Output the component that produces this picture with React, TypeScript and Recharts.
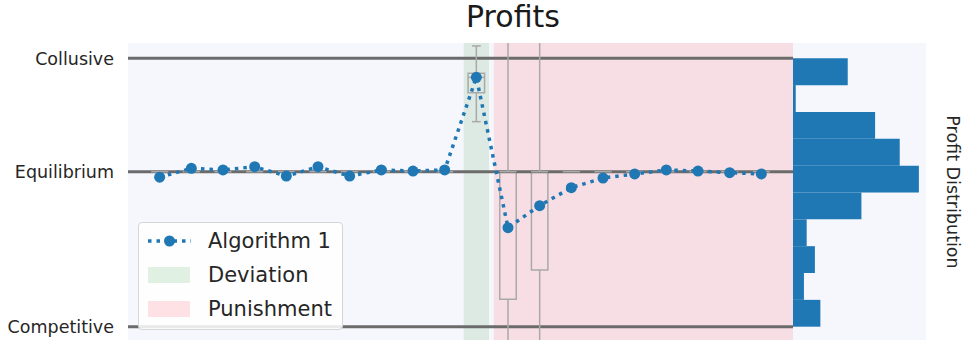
import React from 'react';
import { ComposedChart, Line, XAxis, YAxis, ReferenceLine, ReferenceArea } from 'recharts';

// ---- data ----
const periods = [1, 2, 3, 4, 5, 6, 7, 8, 9, 10, 11, 12, 13, 14, 15, 16, 17, 18, 19, 20];
const profit = [0.557, 0.590, 0.584, 0.596, 0.561, 0.596, 0.561, 0.584, 0.580, 0.584, 0.929, 0.369, 0.451, 0.518, 0.554, 0.569, 0.584, 0.580, 0.574, 0.569];

const EQ = 0.5775;
const boxQ1 = [EQ, EQ, EQ, EQ, EQ, EQ, EQ, EQ, EQ, EQ, 0.872, 0.102, 0.211, EQ, EQ, EQ, EQ, EQ, EQ, EQ];
const boxQ3 = [EQ, EQ, EQ, EQ, EQ, EQ, EQ, EQ, EQ, EQ, 0.944, EQ, EQ, EQ, EQ, EQ, EQ, EQ, EQ, EQ];
const boxMed = [EQ, EQ, EQ, EQ, EQ, EQ, EQ, EQ, EQ, EQ, 0.929, EQ, EQ, EQ, EQ, EQ, EQ, EQ, EQ, EQ];
const whiskerLow = [EQ, EQ, EQ, EQ, EQ, EQ, EQ, EQ, EQ, EQ, 0.764, -0.3, -0.3, EQ, EQ, EQ, EQ, EQ, EQ, EQ];
const whiskerHigh = [EQ, EQ, EQ, EQ, EQ, EQ, EQ, EQ, EQ, EQ, 1.046, 1.3, 1.3, EQ, EQ, EQ, EQ, EQ, EQ, EQ];

const levelValues = [0, EQ, 1];
const levelLabels = ['Competitive', 'Equilibrium', 'Collusive'];

const deviationRange = [10.6, 11.4];
const punishmentRange = [11.55, 21];

const binLow = [0, 0.1, 0.2, 0.3, 0.4, 0.5, 0.6, 0.7, 0.8, 0.9];
const binHigh = [0.1, 0.2, 0.3, 0.4, 0.5, 0.6, 0.7, 0.8, 0.9, 1.0];
const binCount = [10, 4, 8, 5, 25, 46, 39, 30, 1, 20];

const seriesName = 'Algorithm 1';
const legendAreas = ['Deviation', 'Punishment'];

// ---- derived tables ----
const data = periods.map((p, i) => ({ period: p, profit: profit[i] }));
const histData = binLow.map((b, i) => ({ mid: (b + binHigh[i]) / 2, count: binCount[i] }));

const Y_DOMAIN: [number, number] = [-0.0496, 1.057];
const FONT = '"DejaVu Sans", sans-serif';
const TEXT = '#262626';
const BLUE = '#1f77b4';
const BOX = '#a9a9a9';
const GREEN_PLOT = '#dde9e3';
const PINK_PLOT = '#f7dee5';
const GREEN_LEG = '#e0f0e3';
const PINK_LEG = '#fde1e4';

const labelFor = (v: number) => {
  const i = levelValues.indexOf(v);
  return i >= 0 ? levelLabels[i] : '';
};

export default function App() {
  const boxes: React.ReactNode[] = [];
  periods.forEach((p, i) => {
    const q1 = boxQ1[i];
    const q3 = boxQ3[i];
    if (q3 > q1) {
      boxes.push(
        <ReferenceArea key={`box${i}`} x1={p - 0.26} x2={p + 0.26} y1={q1} y2={q3}
          fill="none" fillOpacity={0} stroke={BOX} strokeWidth={1.5} ifOverflow="hidden" />
      );
    }
    if (whiskerHigh[i] > q3) {
      boxes.push(
        <ReferenceLine key={`wh${i}`} segment={[{ x: p, y: q3 }, { x: p, y: whiskerHigh[i] }]}
          stroke={BOX} strokeWidth={1.5} ifOverflow="hidden" />,
        <ReferenceLine key={`ch${i}`} segment={[{ x: p - 0.14, y: whiskerHigh[i] }, { x: p + 0.14, y: whiskerHigh[i] }]}
          stroke={BOX} strokeWidth={1.5} ifOverflow="hidden" />
      );
    }
    if (whiskerLow[i] < q1) {
      boxes.push(
        <ReferenceLine key={`wl${i}`} segment={[{ x: p, y: q1 }, { x: p, y: whiskerLow[i] }]}
          stroke={BOX} strokeWidth={1.5} ifOverflow="hidden" />,
        <ReferenceLine key={`cl${i}`} segment={[{ x: p - 0.14, y: whiskerLow[i] }, { x: p + 0.14, y: whiskerLow[i] }]}
          stroke={BOX} strokeWidth={1.5} ifOverflow="hidden" />
      );
    }
    boxes.push(
      <ReferenceLine key={`md${i}`} segment={[{ x: p - 0.27, y: boxMed[i] }, { x: p + 0.27, y: boxMed[i] }]}
        stroke={BOX} strokeWidth={1.5} ifOverflow="hidden" />
    );
  });

  return (
    <div style={{ position: 'absolute', left: 0, top: 0, width: 963, height: 345, background: '#ffffff', fontFamily: FONT }}>
      {/* panel backgrounds */}
      <div style={{ position: 'absolute', left: 128, top: 43, width: 798, height: 297, background: '#f5f7fd' }} />

      {/* title */}
      <div style={{ position: 'absolute', left: 413, width: 200, top: 2, textAlign: 'center', fontSize: 30, lineHeight: '30px', color: '#1a1a1a' }}>
        Profits
      </div>

      {/* main chart */}
      <div style={{ position: 'absolute', left: 0, top: 0 }}>
        <ComposedChart width={800} height={345} data={data} margin={{ top: 43, right: 7, bottom: 5, left: 0 }}>
          <XAxis type="number" dataKey="period" domain={[0, 21]} hide allowDataOverflow />
          <YAxis type="number" domain={Y_DOMAIN} allowDataOverflow width={128} ticks={levelValues} interval={0}
            tickFormatter={labelFor} axisLine={false} tickLine={false} tickSize={6} tickMargin={8}
            tick={{ fontSize: 17.5, fill: TEXT, fontFamily: FONT }} />
          <ReferenceArea x1={deviationRange[0]} x2={deviationRange[1]} y1={Y_DOMAIN[0]} y2={Y_DOMAIN[1]}
            fill={GREEN_PLOT} fillOpacity={1} stroke="none" ifOverflow="hidden" />
          <ReferenceArea x1={punishmentRange[0]} x2={punishmentRange[1]} y1={Y_DOMAIN[0]} y2={Y_DOMAIN[1]}
            fill={PINK_PLOT} fillOpacity={1} stroke="none" ifOverflow="hidden" />
          {levelValues.map((v) => (
            <ReferenceLine key={`lvl${v}`} y={v} stroke="#6b6b6b" strokeWidth={3} />
          ))}
          {boxes}
          <Line type="linear" dataKey="profit" stroke={BLUE} strokeWidth={3.5} strokeDasharray="3.5 5"
            dot={{ r: 5.5, fill: BLUE, stroke: 'none', strokeDasharray: '' }} activeDot={false}
            isAnimationActive={false} />
        </ComposedChart>
      </div>

      {/* histogram: bins drawn as areas on the shared profit scale */}
      <div style={{ position: 'absolute', left: 793, top: 43 }}>
        <ComposedChart width={133} height={297} data={histData} margin={{ top: 0, right: 0, bottom: 0, left: 0 }}>
          <XAxis type="number" dataKey="count" domain={[0, 48.6]} hide allowDataOverflow />
          <YAxis type="number" dataKey="mid" domain={Y_DOMAIN} hide allowDataOverflow />
          {binLow.map((b, i) => (
            <ReferenceArea key={`bin${i}`} x1={0} x2={binCount[i]} y1={b} y2={binHigh[i]}
              fill={BLUE} fillOpacity={1} stroke="none" ifOverflow="visible" />
          ))}
          <Line dataKey="mid" stroke="none" dot={false} activeDot={false} isAnimationActive={false} />
        </ComposedChart>
      </div>

      {/* right label */}
      <div style={{ position: 'absolute', left: 953, top: 192, width: 0, height: 0 }}>
        <div style={{ position: 'absolute', left: -100, top: -11, width: 200, textAlign: 'center', fontSize: 17.5, lineHeight: '22px', color: TEXT, transform: 'rotate(90deg)', whiteSpace: 'nowrap' }}>
          Profit Distribution
        </div>
      </div>

      {/* legend */}
      <div style={{ position: 'absolute', left: 138, top: 222, width: 203, height: 106, background: 'rgba(255,255,255,0.85)', border: '1px solid #d6d6d6', borderRadius: 4 }}>
        <svg width={60} height={106} style={{ position: 'absolute', left: 0, top: 0 }}>
          <line x1={9} x2={52} y1={18} y2={18} stroke={BLUE} strokeWidth={3.5} strokeDasharray="3.5 5" />
          <circle cx={30.5} cy={18} r={5.5} fill={BLUE} />
          <rect x={9} y={44} width={42} height={16} fill={GREEN_LEG} />
          <rect x={9} y={78} width={42} height={16} fill={PINK_LEG} />
        </svg>
        {[seriesName, ...legendAreas].map((t, i) => (
          <div key={t} style={{ position: 'absolute', left: 69, top: 5 + i * 34, fontSize: 21, lineHeight: '26px', color: TEXT, whiteSpace: 'nowrap' }}>
            {t}
          </div>
        ))}
      </div>
    </div>
  );
}
